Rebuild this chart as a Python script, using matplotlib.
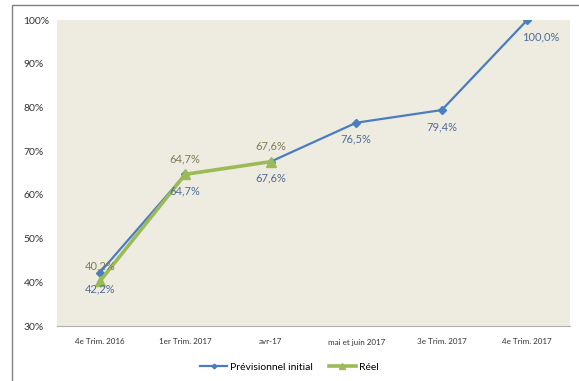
import matplotlib.pyplot as plt
from matplotlib.patches import Rectangle
from matplotlib.ticker import FuncFormatter

# chart values
categories = ["4e Trim. 2016", "1er Trim. 2017", "avr-17", "mai et juin 2017",
              "3e Trim. 2017", "4e Trim. 2017"]
previsionnel = [42.2, 64.7, 67.6, 76.5, 79.4, 100.0]
reel = [40.2, 64.7, 67.6]

plt.rcParams['font.family'] = ['Lato', 'DejaVu Sans']

blue = '#4a7cc0'
green = '#9bbb59'

fig = plt.figure(figsize=(5.79, 3.81), dpi=100)
fig.patch.set_facecolor('white')
# outer frame of the chart object
fig.patches.append(Rectangle((12 / 579, -0.05), 1.0, 1.0 - 5 / 381 + 0.05,
                             transform=fig.transFigure, fill=False,
                             edgecolor='#808080', linewidth=1.0))

ax = fig.add_axes([57 / 579, 1 - 326 / 381, 513 / 579, 306 / 381])
ax.set_facecolor('#eeece1')

x = list(range(len(categories)))
ax.plot(x, previsionnel, color=blue, linewidth=1.6, marker='D', markersize=4,
        label='Prévisionnel initial', zorder=3)
ax.plot(x[:len(reel)], reel, color=green, linewidth=2.6, marker='^',
        markersize=7, label='Réel', zorder=4)

def pct(v):
    return f"{v:.1f}%".replace('.', ',')

for i, v in enumerate(previsionnel):
    dx = 10 if i == len(previsionnel) - 1 else 0
    ax.annotate(pct(v), (i, v), xytext=(dx, -8), textcoords='offset points',
                ha='center', va='top', fontsize=8,
                color='#4f6b9a', zorder=5)
for i, v in enumerate(reel):
    ax.annotate(pct(v), (i, v), xytext=(0, 7), textcoords='offset points',
                ha='center', va='bottom', fontsize=8, color='#7d7b55', zorder=5)

ax.set_xlim(-0.5, len(categories) - 0.5)
ax.set_ylim(30, 100)
ax.set_yticks(range(30, 101, 10))
ax.yaxis.set_major_formatter(FuncFormatter(lambda v, _: f"{v:.0f}%"))
ax.set_xticks(x)
ax.set_xticklabels(categories, fontsize=5.8, color='#333333')
ax.tick_params(axis='y', labelsize=7.5, colors='#333333', length=0, pad=24)
ax.tick_params(axis='x', length=0, pad=9)
for lbl in ax.get_yticklabels():
    lbl.set_horizontalalignment('left')

for side in ['top', 'right', 'left']:
    ax.spines[side].set_visible(False)
ax.spines['bottom'].set_color('#b0b0b0')
ax.spines['bottom'].set_linewidth(0.8)

fig.legend(loc='center', bbox_to_anchor=(0.5, 1 - 367 / 381), ncol=2,
           frameon=False, fontsize=7.5, handlelength=2.6, columnspacing=1.5,
           handletextpad=0.3, markerscale=0.6)

fig.savefig('out.png', dpi=100)
